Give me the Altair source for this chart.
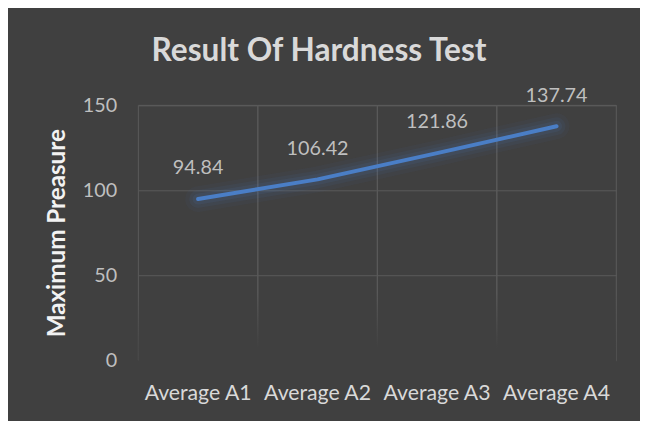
import altair as alt
import pandas as pd

categories = ["Average A1", "Average A2", "Average A3", "Average A4"]
values = [94.84, 106.42, 121.86, 137.74]
labels = ["94.84", "106.42", "121.86", "137.74"]
y_ticks = [0, 50, 100, 150]

df = pd.DataFrame({"cat": categories, "val": values, "lab": labels})

FONT = "Lato"
BG = "#404040"
GRID = "#5a5a5a"
BLUE = "#4a7ec6"

x_enc = alt.X("cat:N", sort=categories,
              scale=alt.Scale(type="band", paddingInner=0, paddingOuter=0),
              axis=alt.Axis(title=None, domain=False, ticks=False, grid=False,
                            labelAngle=0, labelFont=FONT, labelFontSize=21.5,
                            labelColor="#d9d9d9", labelPadding=23))
y_scale = alt.Scale(domain=[0, 150], nice=False)
y_enc = alt.Y("val:Q", scale=y_scale,
              axis=alt.Axis(title="Maximum Preasure", values=y_ticks, domain=False,
                            ticks=False, grid=True, gridColor=GRID, gridWidth=1,
                            labelFont=FONT, labelFontSize=20, labelColor="#bfbfbf",
                            labelPadding=22, titleFont=FONT, titleFontSize=24.5,
                            titleFontWeight="bold", titleColor="#f2f2f2",
                            titleX=-82, titleY=129, titleAngle=-90,
                            titleBaseline="middle", titleAlign="center"))

base = alt.Chart(df)

cells = base.mark_rect(fill=None, stroke=GRID, strokeWidth=1).encode(
    x=x_enc, y=alt.datum(0, scale=y_scale), y2=alt.datum(150)
)

fade = alt.Chart(pd.DataFrame({"a": [0]})).mark_rect(
    color=alt.Gradient(gradient="linear",
                       stops=[alt.GradientStop(color="rgba(64,64,64,0)", offset=0),
                              alt.GradientStop(color=BG, offset=0.75),
                              alt.GradientStop(color=BG, offset=1)],
                       x1=0, x2=0, y1=0, y2=1)
).encode(y=alt.datum(40, scale=y_scale), y2=alt.datum(-4))

glows = [
    base.mark_line(color=BLUE, strokeWidth=w, opacity=o, strokeCap="round", strokeJoin="round").encode(
        x=x_enc, y=y_enc)
    for w, o in [(26, 0.05), (18, 0.07), (11, 0.1)]
]
line = base.mark_line(color=BLUE, strokeWidth=4, strokeCap="round", strokeJoin="round").encode(
    x=x_enc, y=y_enc)

text = base.mark_text(font=FONT, fontSize=20, color="#bfbfbf", dy=-31, baseline="middle").encode(
    x=x_enc, y=y_enc, text="lab:N")

chart = alt.layer(cells, fade, *glows, line, text).properties(
    width=484, height=258,
    background=BG,
    autosize=alt.AutoSizeParams(type="none"),
    padding={"left": 132, "top": 96, "right": 24, "bottom": 59},
    title=alt.TitleParams("Result Of Hardness Test", font=FONT, fontSize=32,
                          fontWeight="bold", color="#d9d9d9", anchor="middle",
                          frame="group", dx=-59, offset=-7, baseline="alphabetic"),
).configure_view(stroke=None)

chart.save("out.html", embed_options={"renderer": "svg", "actions": False})
